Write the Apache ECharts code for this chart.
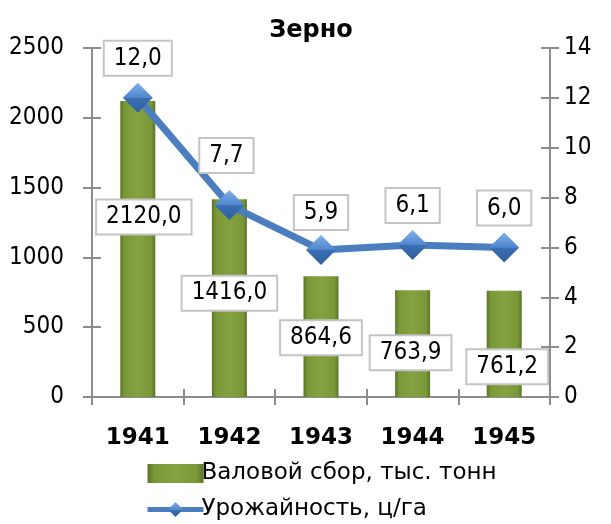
<!DOCTYPE html>
<html>
<head>
<meta charset="utf-8">
<script src="https://cdn.jsdelivr.net/npm/echarts@6/dist/echarts.min.js"></script>
<style>html,body{margin:0;padding:0;background:#fff}#c{width:611px;height:524px}</style>
</head>
<body>
<div id="c"></div>
<script>
const title = 'Зерно';
const categories = ['1941', '1942', '1943', '1944', '1945'];
const grossHarvest = [2120.0, 1416.0, 864.6, 763.9, 761.2];
const yieldValues = [12.0, 7.7, 5.9, 6.1, 6.0];
const seriesNames = ['Валовой сбор, тыс. тонн', 'Урожайность, ц/га'];

// label placement tweaks (style only)
const barLabelOffsets = [[6, -32], [0, -5], [0, 1], [-2, 9], [3, 23]];
const lineLabelOffsets = [[0, 0], [-3, -10], [0, 2], [0, 0], [0, 0]];

const FONT = '"DejaVu Sans Condensed", "DejaVu Sans", sans-serif';
const fmt = v => v.toFixed(1).replace('.', ',');
const AX = '#8c8c8c';

const boxLabel = {
  show: true,
  fontFamily: FONT,
  fontSize: 24,
  color: '#000',
  backgroundColor: '#fff',
  borderColor: '#c4c4c4',
  borderWidth: 2,
  padding: [5, 9, 4, 9]
};

const barGrad = new echarts.graphic.LinearGradient(0, 0, 1, 0, [
  {offset: 0, color: '#5a7426'},
  {offset: 0.12, color: '#7b9838'},
  {offset: 0.5, color: '#84a242'},
  {offset: 0.88, color: '#7b9838'},
  {offset: 1, color: '#5a7426'}
]);
const diamondGrad = new echarts.graphic.LinearGradient(0, 0, 0, 1, [
  {offset: 0, color: '#7eb0ea'},
  {offset: 0.5, color: '#4f86cc'},
  {offset: 0.51, color: '#3b6fb2'},
  {offset: 1, color: '#2e5f9e'}
]);

const barData = grossHarvest.map((v, i) => ({
  value: v,
  label: {offset: barLabelOffsets[i]}
}));
const lineData = yieldValues.map((v, i) => ({
  value: v,
  label: {offset: lineLabelOffsets[i]}
}));

function valueAxis(min, max, interval, position, inside, showLabel, margin) {
  return {
    type: 'value', min, max, interval, position,
    splitLine: {show: false},
    axisLine: {show: true, onZero: false, lineStyle: {color: AX, width: 2}},
    axisTick: {show: true, inside, length: 9, lineStyle: {color: AX, width: 2}},
    axisLabel: {show: showLabel, fontFamily: FONT, fontSize: 24, color: '#000', margin, formatter: v => String(v)}
  };
}
function catAxis(inside, showLabel) {
  return {
    type: 'category',
    data: categories,
    position: 'bottom',
    axisLine: {show: true, onZero: false, lineStyle: {color: AX, width: 2}},
    axisTick: {show: true, inside, alignWithLabel: false, length: 8, lineStyle: {color: AX, width: 2}},
    axisLabel: {show: showLabel, fontFamily: '"DejaVu Sans", sans-serif', fontWeight: 'bold', fontSize: 23, color: '#000', margin: 30}
  };
}

const chart = echarts.init(document.getElementById('c'), null, {renderer: 'canvas'});
chart.setOption({
  animation: false,
  backgroundColor: '#fff',
  title: {
    text: title,
    left: 306,
    textAlign: 'center',
    top: 14,
    textStyle: {fontFamily: '"DejaVu Sans", sans-serif', fontWeight: 'bold', fontSize: 24, color: '#000'}
  },
  legend: {
    orient: 'vertical',
    left: 140,
    top: 457,
    height: 120,
    itemWidth: 56,
    itemHeight: 19,
    itemGap: 13,
    textStyle: {fontFamily: '"DejaVu Sans", sans-serif', fontSize: 23, color: '#000', padding: [0, 0, 0, -7]},
    data: [
      {name: seriesNames[0], icon: 'rect'},
      {name: seriesNames[1], lineStyle: {width: 5}}
    ]
  },
  grid: {left: 92, right: 61, top: 48, bottom: 127, containLabel: false},
  xAxis: [catAxis(false, true), catAxis(true, false)],
  yAxis: [
    valueAxis(0, 2500, 500, 'left', false, true, 28),
    valueAxis(0, 14, 2, 'right', false, true, 14),
    valueAxis(0, 2500, 500, 'left', true, false, 0),
    valueAxis(0, 14, 2, 'right', true, false, 0)
  ],
  series: [
    {
      name: seriesNames[0],
      type: 'bar',
      yAxisIndex: 0,
      data: barData,
      barWidth: 35,
      itemStyle: {color: barGrad},
      label: Object.assign({}, boxLabel, {
        position: 'inside',
        formatter: p => fmt(p.value)
      }),
      z: 2
    },
    {
      name: seriesNames[1],
      type: 'line',
      yAxisIndex: 1,
      data: lineData,
      symbol: 'diamond',
      symbolSize: 30,
      lineStyle: {color: '#4a7ebe', width: 7},
      itemStyle: {color: diamondGrad, borderColor: '#3d6ea8', borderWidth: 0},
      label: Object.assign({}, boxLabel, {
        position: 'top',
        distance: 8,
        formatter: p => fmt(p.value)
      }),
      z: 3
    }
  ]
});
</script>
</body>
</html>
